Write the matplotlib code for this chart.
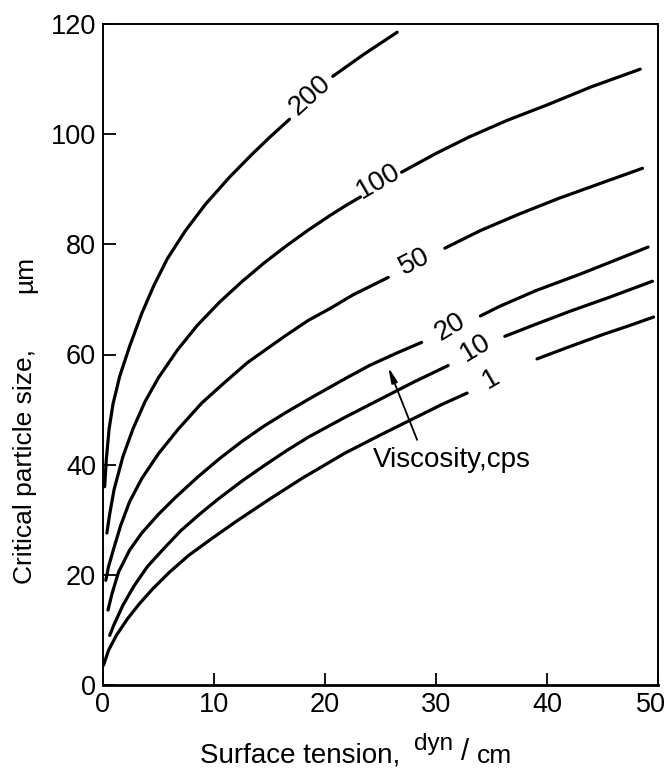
import matplotlib
matplotlib.use("Agg")
import matplotlib.pyplot as plt
from matplotlib.transforms import ScaledTranslation

plt.rcParams['font.family'] = ['Liberation Sans', 'DejaVu Sans']

# Critical particle size (um) vs surface tension (dyn/cm), one curve per viscosity (cps).
# Each curve is split in two pieces around its inline label.
viscosity_labels = ["200", "100", "50", "20", "10", "1"]

tension_200_a = [0.15, 0.3, 0.55, 0.9, 1.5, 2.4, 3.5, 4.6, 5.8, 7.4, 9.2, 11.4, 13.4, 15.0, 16.8]
size_200_a = [36, 41, 46.5, 51, 56, 61.5, 67.5, 72.6, 77.4, 82.4, 87.2, 92.2, 96.3, 99.4, 102.7]
tension_200_b = [20.7, 23.5, 26.5]
size_200_b = [110.5, 114.5, 118.5]

tension_100_a = [0.35, 0.6, 1.0, 1.8, 2.7, 3.8, 5.0, 6.7, 8.5, 10.5, 12.5, 14.5, 16.5, 18.5, 20.5, 22.0, 23.2]
size_100_a = [27.6, 31, 35.5, 41.5, 46.5, 51.5, 55.8, 60.8, 65.3, 69.5, 73.2, 76.6, 79.7, 82.6, 85.3, 87.2, 88.6]
tension_100_b = [26.9, 30.0, 33.0, 36.4, 40.0, 44.0, 48.4]
size_100_b = [93.1, 96.5, 99.5, 102.5, 105.3, 108.6, 111.8]

tension_50_a = [0.25, 0.5, 1.0, 1.6, 2.4, 3.5, 5.0, 6.8, 8.9, 11.0, 13.0, 14.6, 16.5, 18.5, 20.5, 22.5, 24.0, 25.7]
size_50_a = [19, 21.5, 25, 29, 33.3, 37.5, 42, 46.5, 51.2, 55, 58.5, 60.8, 63.5, 66.2, 68.4, 70.8, 72.3, 74]
tension_50_b = [30.8, 34.0, 37.5, 41.0, 45.0, 48.6]
size_50_b = [79.3, 82.5, 85.5, 88.3, 91.2, 93.8]

tension_20_a = [0.45, 0.8, 1.4, 2.4, 3.5, 5.0, 6.5, 8.5, 10.5, 12.5, 14.5, 16.5, 18.8, 21.8, 24.0, 26.5, 28.7]
size_20_a = [13.6, 16.5, 20.5, 24.5, 27.6, 31, 34, 37.7, 41.1, 44.2, 47, 49.5, 52.2, 55.6, 58, 60.3, 62.2]
tension_20_b = [34.0, 35.8, 39.0, 43.0, 46.0, 49.1]
size_20_b = [67, 68.8, 71.6, 74.6, 77, 79.5]

tension_10_a = [0.6, 1.0, 1.8, 2.8, 4.0, 5.4, 7.0, 8.7, 10.4, 12.5, 14.5, 16.5, 18.5, 21.8, 24.8, 28.0, 31.1]
size_10_a = [9, 11, 14.5, 18, 21.5, 24.6, 28, 31, 33.8, 37, 39.8, 42.5, 45, 48.6, 51.7, 55, 58]
tension_10_b = [36.2, 39.0, 42.0, 45.5, 49.5]
size_10_b = [63.3, 65.5, 67.8, 70.3, 73.3]

tension_1_a = [0.05, 0.5, 1.2, 2.2, 3.3, 4.5, 6.0, 7.7, 9.6, 12.0, 14.9, 18.0, 21.8, 25.0, 28.1, 30.5, 32.8]
size_1_a = [3.6, 6.3, 9, 12, 14.8, 17.5, 20.5, 23.5, 26.3, 29.7, 33.6, 37.6, 42.1, 45.4, 48.5, 50.9, 53]
tension_1_b = [39.1, 42.0, 45.0, 47.5, 49.6]
size_1_b = [59.2, 61.4, 63.6, 65.3, 66.8]

# inline label anchors (data coords) and on-screen angles
label_x = [18.7, 24.8, 28.1, 31.3, 33.6, 35.0]
label_y = [107.0, 91.5, 76.8, 65.0, 61.2, 55.6]
label_angle = [42, 30, 27, 31, 31, 30]

x_ticks = [0, 10, 20, 30, 40, 50]
y_ticks = [0, 20, 40, 60, 80, 100, 120]

W, H = 670, 771
fig = plt.figure(figsize=(W / 100, H / 100), dpi=100)
ax = fig.add_axes([103 / W, 1 - 685 / H, (658 - 103) / W, (685 - 24) / H])


def fx(px):
    return px / W


def fy(py):
    return 1 - py / H


pieces = [
    (tension_200_a, size_200_a), (tension_200_b, size_200_b),
    (tension_100_a, size_100_a), (tension_100_b, size_100_b),
    (tension_50_a, size_50_a), (tension_50_b, size_50_b),
    (tension_20_a, size_20_a), (tension_20_b, size_20_b),
    (tension_10_a, size_10_a), (tension_10_b, size_10_b),
    (tension_1_a, size_1_a), (tension_1_b, size_1_b),
]
for xs, ys in pieces:
    ax.plot(xs, ys, color='black', lw=2.3, solid_capstyle='round', solid_joinstyle='round')

for txt, lx, ly, ang in zip(viscosity_labels, label_x, label_y, label_angle):
    ax.text(lx, ly, txt, rotation=ang, rotation_mode='anchor', ha='center', va='center',
            fontsize=20, color='black')

ax.annotate('', xy=(25.7, 57.7), xytext=(28.3, 44.5),
            arrowprops=dict(arrowstyle='-|>,head_width=0.18,head_length=0.9',
                            color='black', lw=1.3, shrinkA=0, shrinkB=0))
ax.text(31.4, 40.8, 'Viscosity,cps', ha='center', va='center', fontsize=20)

ax.set_xlim(0, 50)
ax.set_ylim(0, 120)
ax.set_xticks(x_ticks)
ax.set_yticks(y_ticks)
ax.tick_params(direction='in', length=9, width=1.3, labelsize=19.5)
ax.tick_params(axis='x', pad=5)
ax.tick_params(axis='y', pad=5)
for side in ['left', 'right', 'top']:
    ax.spines[side].set_linewidth(1.4)
ax.spines['bottom'].set_linewidth(2.0)

# keep the last x tick label inside the figure
last = ax.get_xticklabels()[-1]
last.set_transform(last.get_transform() + ScaledTranslation(-7 / 100, 0, fig.dpi_scale_trans))

# axis titles
fig.text(fx(25), fy(466), 'Critical particle size,', rotation=90, ha='center', va='center',
         fontsize=19)
fig.text(fx(25), fy(274), 'µm', rotation=90, ha='center', va='center', fontsize=19)

fig.text(fx(200), fy(762), 'Surface tension,', ha='left', va='baseline', fontsize=20)
fig.text(fx(414), fy(750), 'dyn', ha='left', va='baseline', fontsize=17.5)
fig.text(fx(461), fy(760), '/', ha='left', va='baseline', fontsize=21)
fig.text(fx(477), fy(763), 'cm', ha='left', va='baseline', fontsize=19)

fig.savefig('out.png', dpi=100)
